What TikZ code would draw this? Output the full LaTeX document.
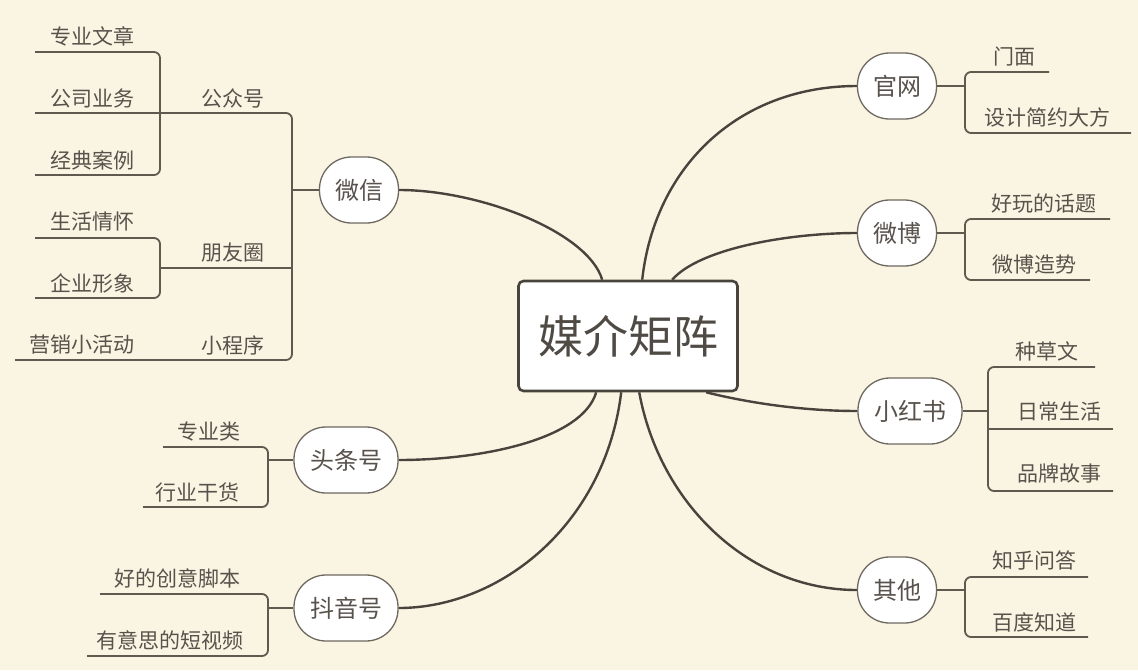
\documentclass[tikz,border=0pt]{standalone}
\usepackage{fontspec}
\setmainfont{Noto Sans CJK SC}
\definecolor{bgc}{RGB}{250,245,226}
\definecolor{linec}{RGB}{72,67,60}
\definecolor{brc}{RGB}{95,89,80}
\definecolor{txtc}{RGB}{88,82,76}
\definecolor{bubc}{RGB}{110,104,96}
\begin{document}
\begin{tikzpicture}[x=1pt,y=-1pt,
  lbl/.style={text=txtc,font=\fontsize{21}{24}\selectfont,inner sep=0pt},
  bub/.style={draw=bubc,line width=1.3pt,fill=white,rounded corners=32pt,
    minimum height=66pt,minimum width=79pt,inner sep=0pt,text=txtc,
    font=\fontsize{24}{27}\selectfont},
  bigbub/.style={bub,minimum width=104pt},
  hub/.style={draw=linec,line width=2.6pt,fill=white,rounded corners=5pt,
    minimum width=219pt,minimum height=110pt,inner sep=0pt,text=txtc!90!black,
    font=\fontsize{45}{50}\selectfont},
  conn/.style={draw=linec,line width=2.4pt},
  br/.style={draw=brc,line width=1.8pt,rounded corners=6pt}]
\fill[bgc] (0,0) rectangle (1138,670);
\useasboundingbox (0,0) rectangle (1138,670);

% hub and bubbles
\node[hub] (c) at (628,336) {媒介矩阵};
\node[bub] (wx) at (359,190) {微信};
\node[bigbub] (tt) at (346,460) {头条号};
\node[bigbub] (dy) at (346,608) {抖音号};
\node[bub] (gw) at (897,86) {官网};
\node[bub] (wb) at (897,233) {微博};
\node[bigbub] (xhs) at (910,411) {小红书};
\node[bub] (qt) at (897,590) {其他};

% main connectors
\draw[conn] ([xshift=85pt]c.north west) .. controls (588,232) and (480,190) .. (wx.east);
\draw[conn] ([xshift=125pt]c.north west) .. controls (655,165) and (740,86) .. (gw.west);
\draw[conn] ([xshift=155pt]c.north west) .. controls (700,248) and (790,233) .. (wb.west);
\draw[conn] ([xshift=189pt]c.south west) .. controls (745,402) and (800,411) .. (xhs.west);
\draw[conn] ([xshift=122pt]c.south west) .. controls (660,505) and (750,590) .. (qt.west);
\draw[conn] ([xshift=79pt]c.south west) .. controls (582,440) and (480,460) .. (tt.east);
\draw[conn] ([xshift=104pt]c.south west) .. controls (605,525) and (500,608) .. (dy.east);

% WeChat branches
\coordinate (wxj) at (292,190);
\draw[br] (wx.west) -- (wxj);
\draw[br] (160,113) -- (292,113) -- (292,360) -- (15,360);
\draw[br] (292,268) -- (160,268);
\draw[br] (35,52) -- (160,52) -- (160,175) -- (35,175);
\draw[br] (35,113) -- (160,113);
\draw[br] (35,238) -- (160,238) -- (160,298) -- (35,298);
\node[lbl] (w1) at (92,36) {专业文章};
\node[lbl] (w2) at (92,98) {公司业务};
\node[lbl] (w3) at (92,160) {经典案例};
\node[lbl] (w4) at (233,98) {公众号};
\node[lbl] (w5) at (92,222) {生活情怀};
\node[lbl] (w6) at (92,283) {企业形象};
\node[lbl] (w7) at (233,253) {朋友圈};
\node[lbl] (w8) at (82,345) {营销小活动};
\node[lbl] (w9) at (233,345) {小程序};

% Toutiao
\draw[br] (tt.west) -- (268,460);
\draw[br] (163,447) -- (268,447) -- (268,507) -- (143,507);
\node[lbl] (t1) at (209,432) {专业类};
\node[lbl] (t2) at (197,492) {行业干货};

% Douyin
\draw[br] (dy.west) -- (268,608);
\draw[br] (100,594) -- (268,594) -- (268,656) -- (87,656);
\node[lbl] (d1) at (177,578) {好的创意脚本};
\node[lbl] (d2) at (170,640) {有意思的短视频};

% Guanwang
\draw[br] (gw.east) -- (965,86);
\draw[br] (1049,72) -- (965,72) -- (965,133) -- (1131,133);
\node[lbl] (g1) at (1014,57) {门面};
\node[lbl] (g2) at (1047,117) {设计简约大方};

% Weibo
\draw[br] (wb.east) -- (965,233);
\draw[br] (1110,219) -- (965,219) -- (965,280) -- (1090,280);
\node[lbl] (b1) at (1044,203) {好玩的话题};
\node[lbl] (b2) at (1034,265) {微博造势};

% Xiaohongshu
\draw[br] (xhs.east) -- (988,411);
\draw[br] (1095,367) -- (988,367) -- (988,491) -- (1113,491);
\draw[br] (988,429) -- (1113,429);
\node[lbl] (x1) at (1047,351) {种草文};
\node[lbl] (x2) at (1059,412) {日常生活};
\node[lbl] (x3) at (1059,474) {品牌故事};

% Others
\draw[br] (qt.east) -- (965,590);
\draw[br] (1088,577) -- (965,577) -- (965,637) -- (1088,637);
\node[lbl] (q1) at (1034,560) {知乎问答};
\node[lbl] (q2) at (1034,622) {百度知道};
\end{tikzpicture}
\end{document}
